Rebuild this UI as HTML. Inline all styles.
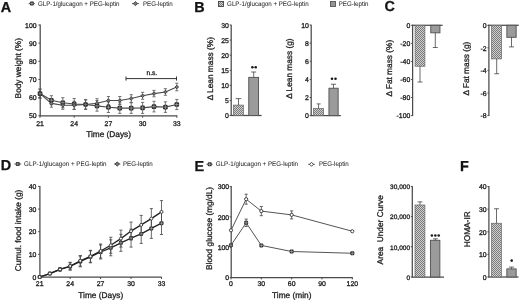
<!DOCTYPE html>
<html><head><meta charset="utf-8"><style>
html,body{margin:0;padding:0;background:#fff;}
svg{display:block;will-change:transform;filter:blur(0.3px);}
text{text-rendering:geometricPrecision;font-family:"Liberation Sans",sans-serif;stroke:#222;stroke-width:0.3px;}
</style></head><body>
<svg width="520" height="301" viewBox="0 0 520 301">
<defs>
<pattern id="chk" width="2" height="2" patternUnits="userSpaceOnUse">
<rect width="2" height="2" fill="#d0d0d0"/>
<rect x="0" y="0" width="1" height="1" fill="#7a7a7a"/>
<rect x="1" y="1" width="1" height="1" fill="#7a7a7a"/>
</pattern>
</defs>
<rect width="520" height="301" fill="#fff"/>
<text x="0.8" y="11.6" font-size="14.4" text-anchor="start" font-weight="bold" fill="#111" >A</text>
<line x1="28.7" y1="3.6" x2="34.8" y2="3.6" stroke="#444" stroke-width="0.9"/>
<rect x="29.90" y="1.60" width="4.00" height="4.00" rx="1.10" fill="#2a2a2a"/>
<line x1="30.20" y1="3.60" x2="33.60" y2="3.60" stroke="#bbb" stroke-width="0.6"/>
<line x1="31.90" y1="1.90" x2="31.90" y2="5.30" stroke="#bbb" stroke-width="0.6"/>
<text x="38" y="5.9" font-size="6.7" textLength="81.5" lengthAdjust="spacingAndGlyphs" fill="#2a2a2a" style="stroke-width:0.05px">GLP-1/glucagon + PEG-leptin</text>
<line x1="132" y1="3.6" x2="138.9" y2="3.6" stroke="#444" stroke-width="0.9"/>
<path d="M133.30,3.60 L135.40,1.50 L137.50,3.60 L135.40,5.70 Z" fill="#777" stroke="#333" stroke-width="0.8"/>
<text x="143" y="5.9" font-size="6.7" textLength="29.8" lengthAdjust="spacingAndGlyphs" fill="#2a2a2a" style="stroke-width:0.05px">PEG-leptin</text>
<line x1="40.2" y1="24.5" x2="40.2" y2="116.2" stroke="#4a4a4a" stroke-width="1.25"/>
<line x1="38.400000000000006" y1="25.0" x2="40.2" y2="25.0" stroke="#4a4a4a" stroke-width="1"/>
<text x="36.6" y="27.7" font-size="6.9" text-anchor="end" font-weight="normal" fill="#222" >100</text>
<line x1="38.400000000000006" y1="43.14" x2="40.2" y2="43.14" stroke="#4a4a4a" stroke-width="1"/>
<text x="36.6" y="45.84" font-size="6.9" text-anchor="end" font-weight="normal" fill="#222" >90</text>
<line x1="38.400000000000006" y1="61.28" x2="40.2" y2="61.28" stroke="#4a4a4a" stroke-width="1"/>
<text x="36.6" y="63.980000000000004" font-size="6.9" text-anchor="end" font-weight="normal" fill="#222" >80</text>
<line x1="38.400000000000006" y1="79.42" x2="40.2" y2="79.42" stroke="#4a4a4a" stroke-width="1"/>
<text x="36.6" y="82.12" font-size="6.9" text-anchor="end" font-weight="normal" fill="#222" >70</text>
<line x1="38.400000000000006" y1="97.56" x2="40.2" y2="97.56" stroke="#4a4a4a" stroke-width="1"/>
<text x="36.6" y="100.26" font-size="6.9" text-anchor="end" font-weight="normal" fill="#222" >60</text>
<line x1="38.400000000000006" y1="115.7" x2="40.2" y2="115.7" stroke="#4a4a4a" stroke-width="1"/>
<text x="36.6" y="118.4" font-size="6.9" text-anchor="end" font-weight="normal" fill="#222" >50</text>
<line x1="39.7" y1="115.9" x2="177.3" y2="115.9" stroke="#4a4a4a" stroke-width="1.3"/>
<line x1="40.0" y1="115.7" x2="40.0" y2="117.7" stroke="#4a4a4a" stroke-width="1"/>
<text x="40.0" y="126.1" font-size="6.9" text-anchor="middle" font-weight="normal" fill="#222" >21</text>
<line x1="74.2" y1="115.7" x2="74.2" y2="117.7" stroke="#4a4a4a" stroke-width="1"/>
<text x="74.2" y="126.1" font-size="6.9" text-anchor="middle" font-weight="normal" fill="#222" >24</text>
<line x1="108.4" y1="115.7" x2="108.4" y2="117.7" stroke="#4a4a4a" stroke-width="1"/>
<text x="108.4" y="126.1" font-size="6.9" text-anchor="middle" font-weight="normal" fill="#222" >27</text>
<line x1="142.60000000000002" y1="115.7" x2="142.60000000000002" y2="117.7" stroke="#4a4a4a" stroke-width="1"/>
<text x="142.60000000000002" y="126.1" font-size="6.9" text-anchor="middle" font-weight="normal" fill="#222" >30</text>
<line x1="176.8" y1="115.7" x2="176.8" y2="117.7" stroke="#4a4a4a" stroke-width="1"/>
<text x="176.8" y="126.1" font-size="6.9" text-anchor="middle" font-weight="normal" fill="#222" >33</text>
<text x="108.6" y="136.8" font-size="8.3" text-anchor="middle" font-weight="normal" fill="#222" >Time (Days)</text>
<text transform="translate(20.7,68.2) rotate(-90)" x="0" y="0" font-size="8.3" text-anchor="middle" fill="#222" xml:space="preserve">Body weight (%)</text>
<line x1="126" y1="78.6" x2="176.5" y2="78.6" stroke="#333" stroke-width="1"/>
<line x1="126" y1="76.5" x2="126" y2="80.6" stroke="#333" stroke-width="1"/>
<line x1="176.5" y1="76.5" x2="176.5" y2="80.6" stroke="#333" stroke-width="1"/>
<text x="151.9" y="75.4" font-size="6.6" text-anchor="middle" font-weight="normal" fill="#222" >n.s.</text>
<line x1="40.0" y1="89.1" x2="40.0" y2="98.1" stroke="#555" stroke-width="0.8"/>
<line x1="38.4" y1="89.1" x2="41.6" y2="89.1" stroke="#555" stroke-width="0.8"/>
<line x1="38.4" y1="98.1" x2="41.6" y2="98.1" stroke="#555" stroke-width="0.8"/>
<line x1="51.4" y1="99.60000000000001" x2="51.4" y2="107.2" stroke="#555" stroke-width="0.8"/>
<line x1="49.8" y1="99.60000000000001" x2="53.0" y2="99.60000000000001" stroke="#555" stroke-width="0.8"/>
<line x1="49.8" y1="107.2" x2="53.0" y2="107.2" stroke="#555" stroke-width="0.8"/>
<line x1="62.8" y1="101.3" x2="62.8" y2="109.3" stroke="#555" stroke-width="0.8"/>
<line x1="61.199999999999996" y1="101.3" x2="64.39999999999999" y2="101.3" stroke="#555" stroke-width="0.8"/>
<line x1="61.199999999999996" y1="109.3" x2="64.39999999999999" y2="109.3" stroke="#555" stroke-width="0.8"/>
<line x1="74.2" y1="101.3" x2="74.2" y2="109.3" stroke="#555" stroke-width="0.8"/>
<line x1="72.60000000000001" y1="101.3" x2="75.8" y2="101.3" stroke="#555" stroke-width="0.8"/>
<line x1="72.60000000000001" y1="109.3" x2="75.8" y2="109.3" stroke="#555" stroke-width="0.8"/>
<line x1="85.6" y1="100.0" x2="85.6" y2="109.0" stroke="#555" stroke-width="0.8"/>
<line x1="84.0" y1="100.0" x2="87.19999999999999" y2="100.0" stroke="#555" stroke-width="0.8"/>
<line x1="84.0" y1="109.0" x2="87.19999999999999" y2="109.0" stroke="#555" stroke-width="0.8"/>
<line x1="97.0" y1="98.7" x2="97.0" y2="107.7" stroke="#555" stroke-width="0.8"/>
<line x1="95.4" y1="98.7" x2="98.6" y2="98.7" stroke="#555" stroke-width="0.8"/>
<line x1="95.4" y1="107.7" x2="98.6" y2="107.7" stroke="#555" stroke-width="0.8"/>
<line x1="108.4" y1="96.5" x2="108.4" y2="104.5" stroke="#555" stroke-width="0.8"/>
<line x1="106.80000000000001" y1="96.5" x2="110.0" y2="96.5" stroke="#555" stroke-width="0.8"/>
<line x1="106.80000000000001" y1="104.5" x2="110.0" y2="104.5" stroke="#555" stroke-width="0.8"/>
<line x1="119.8" y1="96.5" x2="119.8" y2="104.5" stroke="#555" stroke-width="0.8"/>
<line x1="118.2" y1="96.5" x2="121.39999999999999" y2="96.5" stroke="#555" stroke-width="0.8"/>
<line x1="118.2" y1="104.5" x2="121.39999999999999" y2="104.5" stroke="#555" stroke-width="0.8"/>
<line x1="131.2" y1="94.7" x2="131.2" y2="102.3" stroke="#555" stroke-width="0.8"/>
<line x1="129.6" y1="94.7" x2="132.79999999999998" y2="94.7" stroke="#555" stroke-width="0.8"/>
<line x1="129.6" y1="102.3" x2="132.79999999999998" y2="102.3" stroke="#555" stroke-width="0.8"/>
<line x1="142.60000000000002" y1="92.3" x2="142.60000000000002" y2="99.3" stroke="#555" stroke-width="0.8"/>
<line x1="141.00000000000003" y1="92.3" x2="144.20000000000002" y2="92.3" stroke="#555" stroke-width="0.8"/>
<line x1="141.00000000000003" y1="99.3" x2="144.20000000000002" y2="99.3" stroke="#555" stroke-width="0.8"/>
<line x1="154.0" y1="90.39999999999999" x2="154.0" y2="96.8" stroke="#555" stroke-width="0.8"/>
<line x1="152.4" y1="90.39999999999999" x2="155.6" y2="90.39999999999999" stroke="#555" stroke-width="0.8"/>
<line x1="152.4" y1="96.8" x2="155.6" y2="96.8" stroke="#555" stroke-width="0.8"/>
<line x1="165.4" y1="88.7" x2="165.4" y2="95.3" stroke="#555" stroke-width="0.8"/>
<line x1="163.8" y1="88.7" x2="167.0" y2="88.7" stroke="#555" stroke-width="0.8"/>
<line x1="163.8" y1="95.3" x2="167.0" y2="95.3" stroke="#555" stroke-width="0.8"/>
<line x1="176.8" y1="83.2" x2="176.8" y2="90.8" stroke="#555" stroke-width="0.8"/>
<line x1="175.20000000000002" y1="83.2" x2="178.4" y2="83.2" stroke="#555" stroke-width="0.8"/>
<line x1="175.20000000000002" y1="90.8" x2="178.4" y2="90.8" stroke="#555" stroke-width="0.8"/>
<line x1="40.0" y1="89.1" x2="40.0" y2="98.1" stroke="#555" stroke-width="0.8"/>
<line x1="38.4" y1="89.1" x2="41.6" y2="89.1" stroke="#555" stroke-width="0.8"/>
<line x1="38.4" y1="98.1" x2="41.6" y2="98.1" stroke="#555" stroke-width="0.8"/>
<line x1="51.4" y1="95.7" x2="51.4" y2="104.7" stroke="#555" stroke-width="0.8"/>
<line x1="49.8" y1="95.7" x2="53.0" y2="95.7" stroke="#555" stroke-width="0.8"/>
<line x1="49.8" y1="104.7" x2="53.0" y2="104.7" stroke="#555" stroke-width="0.8"/>
<line x1="62.8" y1="97.7" x2="62.8" y2="107.7" stroke="#555" stroke-width="0.8"/>
<line x1="61.199999999999996" y1="97.7" x2="64.39999999999999" y2="97.7" stroke="#555" stroke-width="0.8"/>
<line x1="61.199999999999996" y1="107.7" x2="64.39999999999999" y2="107.7" stroke="#555" stroke-width="0.8"/>
<line x1="74.2" y1="98.5" x2="74.2" y2="109.5" stroke="#555" stroke-width="0.8"/>
<line x1="72.60000000000001" y1="98.5" x2="75.8" y2="98.5" stroke="#555" stroke-width="0.8"/>
<line x1="72.60000000000001" y1="109.5" x2="75.8" y2="109.5" stroke="#555" stroke-width="0.8"/>
<line x1="85.6" y1="99.5" x2="85.6" y2="109.5" stroke="#555" stroke-width="0.8"/>
<line x1="84.0" y1="99.5" x2="87.19999999999999" y2="99.5" stroke="#555" stroke-width="0.8"/>
<line x1="84.0" y1="109.5" x2="87.19999999999999" y2="109.5" stroke="#555" stroke-width="0.8"/>
<line x1="97.0" y1="100.60000000000001" x2="97.0" y2="111.2" stroke="#555" stroke-width="0.8"/>
<line x1="95.4" y1="100.60000000000001" x2="98.6" y2="100.60000000000001" stroke="#555" stroke-width="0.8"/>
<line x1="95.4" y1="111.2" x2="98.6" y2="111.2" stroke="#555" stroke-width="0.8"/>
<line x1="108.4" y1="101.9" x2="108.4" y2="112.5" stroke="#555" stroke-width="0.8"/>
<line x1="106.80000000000001" y1="101.9" x2="110.0" y2="101.9" stroke="#555" stroke-width="0.8"/>
<line x1="106.80000000000001" y1="112.5" x2="110.0" y2="112.5" stroke="#555" stroke-width="0.8"/>
<line x1="119.8" y1="102.8" x2="119.8" y2="113.39999999999999" stroke="#555" stroke-width="0.8"/>
<line x1="118.2" y1="102.8" x2="121.39999999999999" y2="102.8" stroke="#555" stroke-width="0.8"/>
<line x1="118.2" y1="113.39999999999999" x2="121.39999999999999" y2="113.39999999999999" stroke="#555" stroke-width="0.8"/>
<line x1="131.2" y1="102.8" x2="131.2" y2="113.39999999999999" stroke="#555" stroke-width="0.8"/>
<line x1="129.6" y1="102.8" x2="132.79999999999998" y2="102.8" stroke="#555" stroke-width="0.8"/>
<line x1="129.6" y1="113.39999999999999" x2="132.79999999999998" y2="113.39999999999999" stroke="#555" stroke-width="0.8"/>
<line x1="142.60000000000002" y1="102.4" x2="142.60000000000002" y2="113.4" stroke="#555" stroke-width="0.8"/>
<line x1="141.00000000000003" y1="102.4" x2="144.20000000000002" y2="102.4" stroke="#555" stroke-width="0.8"/>
<line x1="141.00000000000003" y1="113.4" x2="144.20000000000002" y2="113.4" stroke="#555" stroke-width="0.8"/>
<line x1="154.0" y1="101.3" x2="154.0" y2="111.89999999999999" stroke="#555" stroke-width="0.8"/>
<line x1="152.4" y1="101.3" x2="155.6" y2="101.3" stroke="#555" stroke-width="0.8"/>
<line x1="152.4" y1="111.89999999999999" x2="155.6" y2="111.89999999999999" stroke="#555" stroke-width="0.8"/>
<line x1="165.4" y1="101.8" x2="165.4" y2="112.39999999999999" stroke="#555" stroke-width="0.8"/>
<line x1="163.8" y1="101.8" x2="167.0" y2="101.8" stroke="#555" stroke-width="0.8"/>
<line x1="163.8" y1="112.39999999999999" x2="167.0" y2="112.39999999999999" stroke="#555" stroke-width="0.8"/>
<line x1="176.8" y1="99.4" x2="176.8" y2="109.6" stroke="#555" stroke-width="0.8"/>
<line x1="175.20000000000002" y1="99.4" x2="178.4" y2="99.4" stroke="#555" stroke-width="0.8"/>
<line x1="175.20000000000002" y1="109.6" x2="178.4" y2="109.6" stroke="#555" stroke-width="0.8"/>
<polyline points="40.00,93.60 51.40,103.40 62.80,105.30 74.20,105.30 85.60,104.50 97.00,103.20 108.40,100.50 119.80,100.50 131.20,98.50 142.60,95.80 154.00,93.60 165.40,92.00 176.80,87.00" fill="none" stroke="#4a4a4a" stroke-width="1.1"/>
<polyline points="40.00,93.60 51.40,100.20 62.80,102.70 74.20,104.00 85.60,104.50 97.00,105.90 108.40,107.20 119.80,108.10 131.20,108.10 142.60,107.90 154.00,106.60 165.40,107.10 176.80,104.50" fill="none" stroke="#4a4a4a" stroke-width="1.1"/>
<rect x="37.70" y="91.30" width="4.60" height="4.60" rx="1.26" fill="#2a2a2a"/>
<line x1="38.00" y1="93.60" x2="42.00" y2="93.60" stroke="#bbb" stroke-width="0.6"/>
<line x1="40.00" y1="91.60" x2="40.00" y2="95.60" stroke="#bbb" stroke-width="0.6"/>
<rect x="49.10" y="97.90" width="4.60" height="4.60" rx="1.26" fill="#2a2a2a"/>
<line x1="49.40" y1="100.20" x2="53.40" y2="100.20" stroke="#bbb" stroke-width="0.6"/>
<line x1="51.40" y1="98.20" x2="51.40" y2="102.20" stroke="#bbb" stroke-width="0.6"/>
<rect x="60.50" y="100.40" width="4.60" height="4.60" rx="1.26" fill="#2a2a2a"/>
<line x1="60.80" y1="102.70" x2="64.80" y2="102.70" stroke="#bbb" stroke-width="0.6"/>
<line x1="62.80" y1="100.70" x2="62.80" y2="104.70" stroke="#bbb" stroke-width="0.6"/>
<rect x="71.90" y="101.70" width="4.60" height="4.60" rx="1.26" fill="#2a2a2a"/>
<line x1="72.20" y1="104.00" x2="76.20" y2="104.00" stroke="#bbb" stroke-width="0.6"/>
<line x1="74.20" y1="102.00" x2="74.20" y2="106.00" stroke="#bbb" stroke-width="0.6"/>
<rect x="83.30" y="102.20" width="4.60" height="4.60" rx="1.26" fill="#2a2a2a"/>
<line x1="83.60" y1="104.50" x2="87.60" y2="104.50" stroke="#bbb" stroke-width="0.6"/>
<line x1="85.60" y1="102.50" x2="85.60" y2="106.50" stroke="#bbb" stroke-width="0.6"/>
<rect x="94.70" y="103.60" width="4.60" height="4.60" rx="1.26" fill="#2a2a2a"/>
<line x1="95.00" y1="105.90" x2="99.00" y2="105.90" stroke="#bbb" stroke-width="0.6"/>
<line x1="97.00" y1="103.90" x2="97.00" y2="107.90" stroke="#bbb" stroke-width="0.6"/>
<rect x="106.10" y="104.90" width="4.60" height="4.60" rx="1.26" fill="#2a2a2a"/>
<line x1="106.40" y1="107.20" x2="110.40" y2="107.20" stroke="#bbb" stroke-width="0.6"/>
<line x1="108.40" y1="105.20" x2="108.40" y2="109.20" stroke="#bbb" stroke-width="0.6"/>
<rect x="117.50" y="105.80" width="4.60" height="4.60" rx="1.26" fill="#2a2a2a"/>
<line x1="117.80" y1="108.10" x2="121.80" y2="108.10" stroke="#bbb" stroke-width="0.6"/>
<line x1="119.80" y1="106.10" x2="119.80" y2="110.10" stroke="#bbb" stroke-width="0.6"/>
<rect x="128.90" y="105.80" width="4.60" height="4.60" rx="1.26" fill="#2a2a2a"/>
<line x1="129.20" y1="108.10" x2="133.20" y2="108.10" stroke="#bbb" stroke-width="0.6"/>
<line x1="131.20" y1="106.10" x2="131.20" y2="110.10" stroke="#bbb" stroke-width="0.6"/>
<rect x="140.30" y="105.60" width="4.60" height="4.60" rx="1.26" fill="#2a2a2a"/>
<line x1="140.60" y1="107.90" x2="144.60" y2="107.90" stroke="#bbb" stroke-width="0.6"/>
<line x1="142.60" y1="105.90" x2="142.60" y2="109.90" stroke="#bbb" stroke-width="0.6"/>
<rect x="151.70" y="104.30" width="4.60" height="4.60" rx="1.26" fill="#2a2a2a"/>
<line x1="152.00" y1="106.60" x2="156.00" y2="106.60" stroke="#bbb" stroke-width="0.6"/>
<line x1="154.00" y1="104.60" x2="154.00" y2="108.60" stroke="#bbb" stroke-width="0.6"/>
<rect x="163.10" y="104.80" width="4.60" height="4.60" rx="1.26" fill="#2a2a2a"/>
<line x1="163.40" y1="107.10" x2="167.40" y2="107.10" stroke="#bbb" stroke-width="0.6"/>
<line x1="165.40" y1="105.10" x2="165.40" y2="109.10" stroke="#bbb" stroke-width="0.6"/>
<rect x="174.50" y="102.20" width="4.60" height="4.60" rx="1.26" fill="#2a2a2a"/>
<line x1="174.80" y1="104.50" x2="178.80" y2="104.50" stroke="#bbb" stroke-width="0.6"/>
<line x1="176.80" y1="102.50" x2="176.80" y2="106.50" stroke="#bbb" stroke-width="0.6"/>
<path d="M38.20,93.60 L40.00,91.80 L41.80,93.60 L40.00,95.40 Z" fill="#777" stroke="#333" stroke-width="0.8"/>
<path d="M49.60,103.40 L51.40,101.60 L53.20,103.40 L51.40,105.20 Z" fill="#777" stroke="#333" stroke-width="0.8"/>
<path d="M61.00,105.30 L62.80,103.50 L64.60,105.30 L62.80,107.10 Z" fill="#777" stroke="#333" stroke-width="0.8"/>
<path d="M72.40,105.30 L74.20,103.50 L76.00,105.30 L74.20,107.10 Z" fill="#777" stroke="#333" stroke-width="0.8"/>
<path d="M83.80,104.50 L85.60,102.70 L87.40,104.50 L85.60,106.30 Z" fill="#777" stroke="#333" stroke-width="0.8"/>
<path d="M95.20,103.20 L97.00,101.40 L98.80,103.20 L97.00,105.00 Z" fill="#777" stroke="#333" stroke-width="0.8"/>
<path d="M106.60,100.50 L108.40,98.70 L110.20,100.50 L108.40,102.30 Z" fill="#777" stroke="#333" stroke-width="0.8"/>
<path d="M118.00,100.50 L119.80,98.70 L121.60,100.50 L119.80,102.30 Z" fill="#777" stroke="#333" stroke-width="0.8"/>
<path d="M129.40,98.50 L131.20,96.70 L133.00,98.50 L131.20,100.30 Z" fill="#777" stroke="#333" stroke-width="0.8"/>
<path d="M140.80,95.80 L142.60,94.00 L144.40,95.80 L142.60,97.60 Z" fill="#777" stroke="#333" stroke-width="0.8"/>
<path d="M152.20,93.60 L154.00,91.80 L155.80,93.60 L154.00,95.40 Z" fill="#777" stroke="#333" stroke-width="0.8"/>
<path d="M163.60,92.00 L165.40,90.20 L167.20,92.00 L165.40,93.80 Z" fill="#777" stroke="#333" stroke-width="0.8"/>
<path d="M175.00,87.00 L176.80,85.20 L178.60,87.00 L176.80,88.80 Z" fill="#777" stroke="#333" stroke-width="0.8"/>
<text x="194.3" y="11.8" font-size="14.4" text-anchor="start" font-weight="bold" fill="#111" >B</text>
<rect x="218.5" y="1.5" width="5" height="5" fill="url(#chk)" stroke="#444" stroke-width="0.9"/>
<text x="227.1" y="5.9" font-size="6.7" textLength="81.5" lengthAdjust="spacingAndGlyphs" fill="#2a2a2a" style="stroke-width:0.05px">GLP-1/glucagon + PEG-leptin</text>
<rect x="330.5" y="1.5" width="5" height="5" fill="#969696" stroke="#555" stroke-width="0.9"/>
<text x="338.7" y="5.9" font-size="6.7" textLength="29.8" lengthAdjust="spacingAndGlyphs" fill="#2a2a2a" style="stroke-width:0.05px">PEG-leptin</text>
<line x1="231.2" y1="24.7" x2="231.2" y2="116.0" stroke="#4a4a4a" stroke-width="1.25"/>
<line x1="229.7" y1="25.0" x2="231.2" y2="25.0" stroke="#4a4a4a" stroke-width="1"/>
<text x="228.89999999999998" y="27.7" font-size="6.9" text-anchor="end" font-weight="normal" fill="#222" >30</text>
<line x1="229.7" y1="40.08333333333333" x2="231.2" y2="40.08333333333333" stroke="#4a4a4a" stroke-width="1"/>
<text x="228.89999999999998" y="42.78333333333333" font-size="6.9" text-anchor="end" font-weight="normal" fill="#222" >25</text>
<line x1="229.7" y1="55.16666666666667" x2="231.2" y2="55.16666666666667" stroke="#4a4a4a" stroke-width="1"/>
<text x="228.89999999999998" y="57.866666666666674" font-size="6.9" text-anchor="end" font-weight="normal" fill="#222" >20</text>
<line x1="229.7" y1="70.25" x2="231.2" y2="70.25" stroke="#4a4a4a" stroke-width="1"/>
<text x="228.89999999999998" y="72.95" font-size="6.9" text-anchor="end" font-weight="normal" fill="#222" >15</text>
<line x1="229.7" y1="85.33333333333334" x2="231.2" y2="85.33333333333334" stroke="#4a4a4a" stroke-width="1"/>
<text x="228.89999999999998" y="88.03333333333335" font-size="6.9" text-anchor="end" font-weight="normal" fill="#222" >10</text>
<line x1="229.7" y1="100.41666666666667" x2="231.2" y2="100.41666666666667" stroke="#4a4a4a" stroke-width="1"/>
<text x="228.89999999999998" y="103.11666666666667" font-size="6.9" text-anchor="end" font-weight="normal" fill="#222" >5</text>
<line x1="229.7" y1="115.5" x2="231.2" y2="115.5" stroke="#4a4a4a" stroke-width="1"/>
<text x="228.89999999999998" y="118.2" font-size="6.9" text-anchor="end" font-weight="normal" fill="#222" >0</text>
<line x1="230.7" y1="115.5" x2="261.6" y2="115.5" stroke="#4a4a4a" stroke-width="1.25"/>
<rect x="233.5" y="105.1" width="9.900000000000006" height="10.400000000000006" fill="url(#chk)" stroke="#666" stroke-width="0.7"/>
<line x1="238.5" y1="98.6" x2="238.5" y2="105.1" stroke="#444" stroke-width="0.8"/>
<line x1="235.7" y1="98.6" x2="241.3" y2="98.6" stroke="#444" stroke-width="0.8"/>
<rect x="248.75" y="77.4" width="9.800000000000011" height="38.099999999999994" fill="#9b9b9b" stroke="#555" stroke-width="0.95"/>
<line x1="253.7" y1="72.0" x2="253.7" y2="77.4" stroke="#444" stroke-width="0.8"/>
<line x1="251.2" y1="72.0" x2="256.2" y2="72.0" stroke="#444" stroke-width="0.8"/>
<circle cx="252.4" cy="67.3" r="1.3" fill="#1a1a1a"/>
<circle cx="255.7" cy="67.3" r="1.3" fill="#1a1a1a"/>
<text transform="translate(212.9,68.7) rotate(-90)" x="0" y="0" font-size="8.3" text-anchor="middle" fill="#222" xml:space="preserve">Δ Lean mass (%)</text>
<line x1="311.2" y1="24.7" x2="311.2" y2="116.1" stroke="#4a4a4a" stroke-width="1.25"/>
<line x1="309.7" y1="25.0" x2="311.2" y2="25.0" stroke="#4a4a4a" stroke-width="1"/>
<text x="308.9" y="27.7" font-size="6.9" text-anchor="end" font-weight="normal" fill="#222" >10</text>
<line x1="309.7" y1="43.120000000000005" x2="311.2" y2="43.120000000000005" stroke="#4a4a4a" stroke-width="1"/>
<text x="308.9" y="45.82000000000001" font-size="6.9" text-anchor="end" font-weight="normal" fill="#222" >8</text>
<line x1="309.7" y1="61.24" x2="311.2" y2="61.24" stroke="#4a4a4a" stroke-width="1"/>
<text x="308.9" y="63.940000000000005" font-size="6.9" text-anchor="end" font-weight="normal" fill="#222" >6</text>
<line x1="309.7" y1="79.36" x2="311.2" y2="79.36" stroke="#4a4a4a" stroke-width="1"/>
<text x="308.9" y="82.06" font-size="6.9" text-anchor="end" font-weight="normal" fill="#222" >4</text>
<line x1="309.7" y1="97.47999999999999" x2="311.2" y2="97.47999999999999" stroke="#4a4a4a" stroke-width="1"/>
<text x="308.9" y="100.17999999999999" font-size="6.9" text-anchor="end" font-weight="normal" fill="#222" >2</text>
<line x1="309.7" y1="115.6" x2="311.2" y2="115.6" stroke="#4a4a4a" stroke-width="1"/>
<text x="308.9" y="118.3" font-size="6.9" text-anchor="end" font-weight="normal" fill="#222" >0</text>
<line x1="310.7" y1="115.6" x2="340.8" y2="115.6" stroke="#4a4a4a" stroke-width="1.25"/>
<rect x="313.6" y="108.5" width="10.0" height="7.099999999999994" fill="url(#chk)" stroke="#666" stroke-width="0.7"/>
<line x1="318.6" y1="103.9" x2="318.6" y2="108.5" stroke="#444" stroke-width="0.8"/>
<line x1="316.6" y1="103.9" x2="320.6" y2="103.9" stroke="#444" stroke-width="0.8"/>
<rect x="328.95" y="88.25" width="9.199999999999989" height="27.349999999999994" fill="#9b9b9b" stroke="#555" stroke-width="0.95"/>
<line x1="333.5" y1="84.25" x2="333.5" y2="88.25" stroke="#444" stroke-width="0.8"/>
<line x1="331.0" y1="84.25" x2="336.0" y2="84.25" stroke="#444" stroke-width="0.8"/>
<circle cx="332.0" cy="78.8" r="1.3" fill="#1a1a1a"/>
<circle cx="335.5" cy="78.8" r="1.3" fill="#1a1a1a"/>
<text transform="translate(292.4,68.65) rotate(-90)" x="0" y="0" font-size="8.3" text-anchor="middle" fill="#222" xml:space="preserve">Δ Lean mass (g)</text>
<text x="384.6" y="11.4" font-size="14.4" text-anchor="start" font-weight="bold" fill="#111" >C</text>
<line x1="412.6" y1="24.8" x2="412.6" y2="116.1" stroke="#4a4a4a" stroke-width="1.25"/>
<line x1="411.1" y1="25.3" x2="412.6" y2="25.3" stroke="#4a4a4a" stroke-width="1"/>
<text x="410.3" y="28.0" font-size="6.9" text-anchor="end" font-weight="normal" fill="#222" >0</text>
<line x1="411.1" y1="43.36" x2="412.6" y2="43.36" stroke="#4a4a4a" stroke-width="1"/>
<text x="410.3" y="46.06" font-size="6.9" text-anchor="end" font-weight="normal" fill="#222" >-20</text>
<line x1="411.1" y1="61.42" x2="412.6" y2="61.42" stroke="#4a4a4a" stroke-width="1"/>
<text x="410.3" y="64.12" font-size="6.9" text-anchor="end" font-weight="normal" fill="#222" >-40</text>
<line x1="411.1" y1="79.48" x2="412.6" y2="79.48" stroke="#4a4a4a" stroke-width="1"/>
<text x="410.3" y="82.18" font-size="6.9" text-anchor="end" font-weight="normal" fill="#222" >-60</text>
<line x1="411.1" y1="97.54" x2="412.6" y2="97.54" stroke="#4a4a4a" stroke-width="1"/>
<text x="410.3" y="100.24000000000001" font-size="6.9" text-anchor="end" font-weight="normal" fill="#222" >-80</text>
<line x1="411.1" y1="115.6" x2="412.6" y2="115.6" stroke="#4a4a4a" stroke-width="1"/>
<text x="410.3" y="118.3" font-size="6.9" text-anchor="end" font-weight="normal" fill="#222" >-100</text>
<line x1="412.1" y1="25.3" x2="442.6" y2="25.3" stroke="#4a4a4a" stroke-width="1.25"/>
<rect x="415.1" y="25.3" width="9.799999999999955" height="40.95" fill="url(#chk)" stroke="#666" stroke-width="0.7"/>
<line x1="420" y1="66.25" x2="420" y2="82.0" stroke="#444" stroke-width="0.8"/>
<line x1="417.5" y1="82.0" x2="422.5" y2="82.0" stroke="#444" stroke-width="0.8"/>
<rect x="430.75" y="25.3" width="9.199999999999989" height="7.4999999999999964" fill="#9b9b9b" stroke="#555" stroke-width="0.95"/>
<line x1="435.3" y1="32.8" x2="435.3" y2="47.5" stroke="#444" stroke-width="0.8"/>
<line x1="432.8" y1="47.5" x2="437.8" y2="47.5" stroke="#444" stroke-width="0.8"/>
<text transform="translate(392.4,68.2) rotate(-90)" x="0" y="0" font-size="8.3" text-anchor="middle" fill="#222" xml:space="preserve">Δ Fat mass (%)</text>
<line x1="488.9" y1="24.8" x2="488.9" y2="116.1" stroke="#4a4a4a" stroke-width="1.25"/>
<line x1="487.4" y1="25.3" x2="488.9" y2="25.3" stroke="#4a4a4a" stroke-width="1"/>
<text x="486.59999999999997" y="28.0" font-size="6.9" text-anchor="end" font-weight="normal" fill="#222" >0</text>
<line x1="487.4" y1="47.875" x2="488.9" y2="47.875" stroke="#4a4a4a" stroke-width="1"/>
<text x="486.59999999999997" y="50.575" font-size="6.9" text-anchor="end" font-weight="normal" fill="#222" >-2</text>
<line x1="487.4" y1="70.45" x2="488.9" y2="70.45" stroke="#4a4a4a" stroke-width="1"/>
<text x="486.59999999999997" y="73.15" font-size="6.9" text-anchor="end" font-weight="normal" fill="#222" >-4</text>
<line x1="487.4" y1="93.02499999999999" x2="488.9" y2="93.02499999999999" stroke="#4a4a4a" stroke-width="1"/>
<text x="486.59999999999997" y="95.725" font-size="6.9" text-anchor="end" font-weight="normal" fill="#222" >-6</text>
<line x1="487.4" y1="115.6" x2="488.9" y2="115.6" stroke="#4a4a4a" stroke-width="1"/>
<text x="486.59999999999997" y="118.3" font-size="6.9" text-anchor="end" font-weight="normal" fill="#222" >-8</text>
<line x1="488.4" y1="25.3" x2="518.8" y2="25.3" stroke="#4a4a4a" stroke-width="1.25"/>
<rect x="491.6" y="25.3" width="9.899999999999977" height="33.599999999999994" fill="url(#chk)" stroke="#666" stroke-width="0.7"/>
<line x1="496.7" y1="58.9" x2="496.7" y2="73.75" stroke="#444" stroke-width="0.8"/>
<line x1="494.2" y1="73.75" x2="499.2" y2="73.75" stroke="#444" stroke-width="0.8"/>
<rect x="506.85" y="25.3" width="9.299999999999955" height="11.999999999999996" fill="#9b9b9b" stroke="#555" stroke-width="0.95"/>
<line x1="511.5" y1="37.3" x2="511.5" y2="46.9" stroke="#444" stroke-width="0.8"/>
<line x1="509.0" y1="46.9" x2="514.0" y2="46.9" stroke="#444" stroke-width="0.8"/>
<text transform="translate(469.4,68.6) rotate(-90)" x="0" y="0" font-size="8.3" text-anchor="middle" fill="#222" xml:space="preserve">Δ Fat mass (g)</text>
<text x="0.8" y="170.0" font-size="14.4" text-anchor="start" font-weight="bold" fill="#111" >D</text>
<line x1="14.4" y1="164.0" x2="21.2" y2="164.0" stroke="#444" stroke-width="0.9"/>
<rect x="15.80" y="162.00" width="4.00" height="4.00" rx="1.10" fill="#2a2a2a"/>
<line x1="16.10" y1="164.00" x2="19.50" y2="164.00" stroke="#bbb" stroke-width="0.6"/>
<line x1="17.80" y1="162.30" x2="17.80" y2="165.70" stroke="#bbb" stroke-width="0.6"/>
<text x="24.1" y="166.1" font-size="6.7" textLength="82.5" lengthAdjust="spacingAndGlyphs" fill="#2a2a2a" style="stroke-width:0.05px">GLP-1/glucagon + PEG-leptin</text>
<line x1="114" y1="164.0" x2="120.3" y2="164.0" stroke="#444" stroke-width="0.9"/>
<path d="M115.00,164.00 L117.20,161.80 L119.40,164.00 L117.20,166.20 Z" fill="#777" stroke="#333" stroke-width="0.8"/>
<text x="123" y="166.1" font-size="6.7" textLength="29.8" lengthAdjust="spacingAndGlyphs" fill="#2a2a2a" style="stroke-width:0.05px">PEG-leptin</text>
<line x1="39.9" y1="185.9" x2="39.9" y2="277.5" stroke="#4a4a4a" stroke-width="1.25"/>
<line x1="38.1" y1="186.4" x2="39.9" y2="186.4" stroke="#4a4a4a" stroke-width="1"/>
<text x="36.3" y="189.1" font-size="6.9" text-anchor="end" font-weight="normal" fill="#222" >40</text>
<line x1="38.1" y1="209.05" x2="39.9" y2="209.05" stroke="#4a4a4a" stroke-width="1"/>
<text x="36.3" y="211.75" font-size="6.9" text-anchor="end" font-weight="normal" fill="#222" >30</text>
<line x1="38.1" y1="231.7" x2="39.9" y2="231.7" stroke="#4a4a4a" stroke-width="1"/>
<text x="36.3" y="234.39999999999998" font-size="6.9" text-anchor="end" font-weight="normal" fill="#222" >20</text>
<line x1="38.1" y1="254.35" x2="39.9" y2="254.35" stroke="#4a4a4a" stroke-width="1"/>
<text x="36.3" y="257.05" font-size="6.9" text-anchor="end" font-weight="normal" fill="#222" >10</text>
<line x1="38.1" y1="277.0" x2="39.9" y2="277.0" stroke="#4a4a4a" stroke-width="1"/>
<text x="36.3" y="279.7" font-size="6.9" text-anchor="end" font-weight="normal" fill="#222" >0</text>
<line x1="39.4" y1="277" x2="161.7" y2="277" stroke="#4a4a4a" stroke-width="1.25"/>
<line x1="39.7" y1="277" x2="39.7" y2="279" stroke="#4a4a4a" stroke-width="1"/>
<text x="39.7" y="286.2" font-size="6.9" text-anchor="middle" font-weight="normal" fill="#222" >21</text>
<line x1="70.15" y1="277" x2="70.15" y2="279" stroke="#4a4a4a" stroke-width="1"/>
<text x="70.15" y="286.2" font-size="6.9" text-anchor="middle" font-weight="normal" fill="#222" >24</text>
<line x1="100.60000000000001" y1="277" x2="100.60000000000001" y2="279" stroke="#4a4a4a" stroke-width="1"/>
<text x="100.60000000000001" y="286.2" font-size="6.9" text-anchor="middle" font-weight="normal" fill="#222" >27</text>
<line x1="131.05" y1="277" x2="131.05" y2="279" stroke="#4a4a4a" stroke-width="1"/>
<text x="131.05" y="286.2" font-size="6.9" text-anchor="middle" font-weight="normal" fill="#222" >30</text>
<line x1="161.5" y1="277" x2="161.5" y2="279" stroke="#4a4a4a" stroke-width="1"/>
<text x="161.5" y="286.2" font-size="6.9" text-anchor="middle" font-weight="normal" fill="#222" >33</text>
<text x="100.8" y="298.3" font-size="8.3" text-anchor="middle" font-weight="normal" fill="#222" >Time (Days)</text>
<text transform="translate(20.5,230.5) rotate(-90)" x="0" y="0" font-size="8.3" text-anchor="middle" fill="#222" xml:space="preserve">Cumul. food intake (g)</text>
<line x1="60.0" y1="267.9" x2="60.0" y2="270.9" stroke="#444" stroke-width="0.8"/>
<line x1="58.4" y1="267.9" x2="61.6" y2="267.9" stroke="#444" stroke-width="0.8"/>
<line x1="58.4" y1="270.9" x2="61.6" y2="270.9" stroke="#444" stroke-width="0.8"/>
<line x1="70.15" y1="262.3" x2="70.15" y2="269.7" stroke="#444" stroke-width="0.8"/>
<line x1="68.55000000000001" y1="262.3" x2="71.75" y2="262.3" stroke="#444" stroke-width="0.8"/>
<line x1="68.55000000000001" y1="269.7" x2="71.75" y2="269.7" stroke="#444" stroke-width="0.8"/>
<line x1="80.30000000000001" y1="255.5" x2="80.30000000000001" y2="266.1" stroke="#444" stroke-width="0.8"/>
<line x1="78.70000000000002" y1="255.5" x2="81.9" y2="255.5" stroke="#444" stroke-width="0.8"/>
<line x1="78.70000000000002" y1="266.1" x2="81.9" y2="266.1" stroke="#444" stroke-width="0.8"/>
<line x1="90.45" y1="250.3" x2="90.45" y2="262.3" stroke="#444" stroke-width="0.8"/>
<line x1="88.85000000000001" y1="250.3" x2="92.05" y2="250.3" stroke="#444" stroke-width="0.8"/>
<line x1="88.85000000000001" y1="262.3" x2="92.05" y2="262.3" stroke="#444" stroke-width="0.8"/>
<line x1="100.60000000000001" y1="244" x2="100.60000000000001" y2="258" stroke="#444" stroke-width="0.8"/>
<line x1="99.00000000000001" y1="244" x2="102.2" y2="244" stroke="#444" stroke-width="0.8"/>
<line x1="99.00000000000001" y1="258" x2="102.2" y2="258" stroke="#444" stroke-width="0.8"/>
<line x1="110.75" y1="237.3" x2="110.75" y2="253.3" stroke="#444" stroke-width="0.8"/>
<line x1="109.15" y1="237.3" x2="112.35" y2="237.3" stroke="#444" stroke-width="0.8"/>
<line x1="109.15" y1="253.3" x2="112.35" y2="253.3" stroke="#444" stroke-width="0.8"/>
<line x1="120.9" y1="230.1" x2="120.9" y2="247.1" stroke="#444" stroke-width="0.8"/>
<line x1="119.30000000000001" y1="230.1" x2="122.5" y2="230.1" stroke="#444" stroke-width="0.8"/>
<line x1="119.30000000000001" y1="247.1" x2="122.5" y2="247.1" stroke="#444" stroke-width="0.8"/>
<line x1="131.05" y1="222.1" x2="131.05" y2="240.1" stroke="#444" stroke-width="0.8"/>
<line x1="129.45000000000002" y1="222.1" x2="132.65" y2="222.1" stroke="#444" stroke-width="0.8"/>
<line x1="129.45000000000002" y1="240.1" x2="132.65" y2="240.1" stroke="#444" stroke-width="0.8"/>
<line x1="141.2" y1="215.4" x2="141.2" y2="234.4" stroke="#444" stroke-width="0.8"/>
<line x1="139.6" y1="215.4" x2="142.79999999999998" y2="215.4" stroke="#444" stroke-width="0.8"/>
<line x1="139.6" y1="234.4" x2="142.79999999999998" y2="234.4" stroke="#444" stroke-width="0.8"/>
<line x1="151.35000000000002" y1="208.6" x2="151.35000000000002" y2="228.6" stroke="#444" stroke-width="0.8"/>
<line x1="149.75000000000003" y1="208.6" x2="152.95000000000002" y2="208.6" stroke="#444" stroke-width="0.8"/>
<line x1="149.75000000000003" y1="228.6" x2="152.95000000000002" y2="228.6" stroke="#444" stroke-width="0.8"/>
<line x1="161.5" y1="200.6" x2="161.5" y2="223.20000000000002" stroke="#444" stroke-width="0.8"/>
<line x1="159.9" y1="200.6" x2="163.1" y2="200.6" stroke="#444" stroke-width="0.8"/>
<line x1="159.9" y1="223.20000000000002" x2="163.1" y2="223.20000000000002" stroke="#444" stroke-width="0.8"/>
<line x1="60.0" y1="267.9" x2="60.0" y2="270.9" stroke="#444" stroke-width="0.8"/>
<line x1="58.4" y1="267.9" x2="61.6" y2="267.9" stroke="#444" stroke-width="0.8"/>
<line x1="58.4" y1="270.9" x2="61.6" y2="270.9" stroke="#444" stroke-width="0.8"/>
<line x1="70.15" y1="262.8" x2="70.15" y2="270.2" stroke="#444" stroke-width="0.8"/>
<line x1="68.55000000000001" y1="262.8" x2="71.75" y2="262.8" stroke="#444" stroke-width="0.8"/>
<line x1="68.55000000000001" y1="270.2" x2="71.75" y2="270.2" stroke="#444" stroke-width="0.8"/>
<line x1="80.30000000000001" y1="256.2" x2="80.30000000000001" y2="266.8" stroke="#444" stroke-width="0.8"/>
<line x1="78.70000000000002" y1="256.2" x2="81.9" y2="256.2" stroke="#444" stroke-width="0.8"/>
<line x1="78.70000000000002" y1="266.8" x2="81.9" y2="266.8" stroke="#444" stroke-width="0.8"/>
<line x1="90.45" y1="250.8" x2="90.45" y2="262.8" stroke="#444" stroke-width="0.8"/>
<line x1="88.85000000000001" y1="250.8" x2="92.05" y2="250.8" stroke="#444" stroke-width="0.8"/>
<line x1="88.85000000000001" y1="262.8" x2="92.05" y2="262.8" stroke="#444" stroke-width="0.8"/>
<line x1="100.60000000000001" y1="245" x2="100.60000000000001" y2="259" stroke="#444" stroke-width="0.8"/>
<line x1="99.00000000000001" y1="245" x2="102.2" y2="245" stroke="#444" stroke-width="0.8"/>
<line x1="99.00000000000001" y1="259" x2="102.2" y2="259" stroke="#444" stroke-width="0.8"/>
<line x1="110.75" y1="239.8" x2="110.75" y2="255.8" stroke="#444" stroke-width="0.8"/>
<line x1="109.15" y1="239.8" x2="112.35" y2="239.8" stroke="#444" stroke-width="0.8"/>
<line x1="109.15" y1="255.8" x2="112.35" y2="255.8" stroke="#444" stroke-width="0.8"/>
<line x1="120.9" y1="234.3" x2="120.9" y2="251.3" stroke="#444" stroke-width="0.8"/>
<line x1="119.30000000000001" y1="234.3" x2="122.5" y2="234.3" stroke="#444" stroke-width="0.8"/>
<line x1="119.30000000000001" y1="251.3" x2="122.5" y2="251.3" stroke="#444" stroke-width="0.8"/>
<line x1="131.05" y1="229.1" x2="131.05" y2="247.1" stroke="#444" stroke-width="0.8"/>
<line x1="129.45000000000002" y1="229.1" x2="132.65" y2="229.1" stroke="#444" stroke-width="0.8"/>
<line x1="129.45000000000002" y1="247.1" x2="132.65" y2="247.1" stroke="#444" stroke-width="0.8"/>
<line x1="141.2" y1="224.4" x2="141.2" y2="243.4" stroke="#444" stroke-width="0.8"/>
<line x1="139.6" y1="224.4" x2="142.79999999999998" y2="224.4" stroke="#444" stroke-width="0.8"/>
<line x1="139.6" y1="243.4" x2="142.79999999999998" y2="243.4" stroke="#444" stroke-width="0.8"/>
<line x1="151.35000000000002" y1="218.4" x2="151.35000000000002" y2="238.4" stroke="#444" stroke-width="0.8"/>
<line x1="149.75000000000003" y1="218.4" x2="152.95000000000002" y2="218.4" stroke="#444" stroke-width="0.8"/>
<line x1="149.75000000000003" y1="238.4" x2="152.95000000000002" y2="238.4" stroke="#444" stroke-width="0.8"/>
<line x1="161.5" y1="211.89999999999998" x2="161.5" y2="234.5" stroke="#444" stroke-width="0.8"/>
<line x1="159.9" y1="211.89999999999998" x2="163.1" y2="211.89999999999998" stroke="#444" stroke-width="0.8"/>
<line x1="159.9" y1="234.5" x2="163.1" y2="234.5" stroke="#444" stroke-width="0.8"/>
<polyline points="39.70,277.00 49.85,273.60 60.00,269.40 70.15,266.00 80.30,260.80 90.45,256.30 100.60,251.00 110.75,245.30 120.90,238.60 131.05,231.10 141.20,224.90 151.35,218.60 161.50,211.90" fill="none" stroke="#222" stroke-width="1.3"/>
<polyline points="39.70,277.00 49.85,273.60 60.00,269.40 70.15,266.50 80.30,261.50 90.45,256.80 100.60,252.00 110.75,247.80 120.90,242.80 131.05,238.10 141.20,233.90 151.35,228.40 161.50,223.20" fill="none" stroke="#222" stroke-width="1.3"/>
<rect x="37.70" y="275.00" width="4.00" height="4.00" rx="1.10" fill="#2a2a2a"/>
<line x1="38.00" y1="277.00" x2="41.40" y2="277.00" stroke="#bbb" stroke-width="0.6"/>
<line x1="39.70" y1="275.30" x2="39.70" y2="278.70" stroke="#bbb" stroke-width="0.6"/>
<rect x="47.85" y="271.60" width="4.00" height="4.00" rx="1.10" fill="#2a2a2a"/>
<line x1="48.15" y1="273.60" x2="51.55" y2="273.60" stroke="#bbb" stroke-width="0.6"/>
<line x1="49.85" y1="271.90" x2="49.85" y2="275.30" stroke="#bbb" stroke-width="0.6"/>
<rect x="58.00" y="267.40" width="4.00" height="4.00" rx="1.10" fill="#2a2a2a"/>
<line x1="58.30" y1="269.40" x2="61.70" y2="269.40" stroke="#bbb" stroke-width="0.6"/>
<line x1="60.00" y1="267.70" x2="60.00" y2="271.10" stroke="#bbb" stroke-width="0.6"/>
<rect x="68.15" y="264.50" width="4.00" height="4.00" rx="1.10" fill="#2a2a2a"/>
<line x1="68.45" y1="266.50" x2="71.85" y2="266.50" stroke="#bbb" stroke-width="0.6"/>
<line x1="70.15" y1="264.80" x2="70.15" y2="268.20" stroke="#bbb" stroke-width="0.6"/>
<rect x="78.30" y="259.50" width="4.00" height="4.00" rx="1.10" fill="#2a2a2a"/>
<line x1="78.60" y1="261.50" x2="82.00" y2="261.50" stroke="#bbb" stroke-width="0.6"/>
<line x1="80.30" y1="259.80" x2="80.30" y2="263.20" stroke="#bbb" stroke-width="0.6"/>
<rect x="88.45" y="254.80" width="4.00" height="4.00" rx="1.10" fill="#2a2a2a"/>
<line x1="88.75" y1="256.80" x2="92.15" y2="256.80" stroke="#bbb" stroke-width="0.6"/>
<line x1="90.45" y1="255.10" x2="90.45" y2="258.50" stroke="#bbb" stroke-width="0.6"/>
<rect x="98.60" y="250.00" width="4.00" height="4.00" rx="1.10" fill="#2a2a2a"/>
<line x1="98.90" y1="252.00" x2="102.30" y2="252.00" stroke="#bbb" stroke-width="0.6"/>
<line x1="100.60" y1="250.30" x2="100.60" y2="253.70" stroke="#bbb" stroke-width="0.6"/>
<rect x="108.75" y="245.80" width="4.00" height="4.00" rx="1.10" fill="#2a2a2a"/>
<line x1="109.05" y1="247.80" x2="112.45" y2="247.80" stroke="#bbb" stroke-width="0.6"/>
<line x1="110.75" y1="246.10" x2="110.75" y2="249.50" stroke="#bbb" stroke-width="0.6"/>
<rect x="118.90" y="240.80" width="4.00" height="4.00" rx="1.10" fill="#2a2a2a"/>
<line x1="119.20" y1="242.80" x2="122.60" y2="242.80" stroke="#bbb" stroke-width="0.6"/>
<line x1="120.90" y1="241.10" x2="120.90" y2="244.50" stroke="#bbb" stroke-width="0.6"/>
<rect x="129.05" y="236.10" width="4.00" height="4.00" rx="1.10" fill="#2a2a2a"/>
<line x1="129.35" y1="238.10" x2="132.75" y2="238.10" stroke="#bbb" stroke-width="0.6"/>
<line x1="131.05" y1="236.40" x2="131.05" y2="239.80" stroke="#bbb" stroke-width="0.6"/>
<rect x="139.20" y="231.90" width="4.00" height="4.00" rx="1.10" fill="#2a2a2a"/>
<line x1="139.50" y1="233.90" x2="142.90" y2="233.90" stroke="#bbb" stroke-width="0.6"/>
<line x1="141.20" y1="232.20" x2="141.20" y2="235.60" stroke="#bbb" stroke-width="0.6"/>
<rect x="149.35" y="226.40" width="4.00" height="4.00" rx="1.10" fill="#2a2a2a"/>
<line x1="149.65" y1="228.40" x2="153.05" y2="228.40" stroke="#bbb" stroke-width="0.6"/>
<line x1="151.35" y1="226.70" x2="151.35" y2="230.10" stroke="#bbb" stroke-width="0.6"/>
<rect x="159.50" y="221.20" width="4.00" height="4.00" rx="1.10" fill="#2a2a2a"/>
<line x1="159.80" y1="223.20" x2="163.20" y2="223.20" stroke="#bbb" stroke-width="0.6"/>
<line x1="161.50" y1="221.50" x2="161.50" y2="224.90" stroke="#bbb" stroke-width="0.6"/>
<circle cx="39.70" cy="277.00" r="1.5" fill="#fff" stroke="#333" stroke-width="0.9"/>
<circle cx="49.85" cy="273.60" r="1.5" fill="#fff" stroke="#333" stroke-width="0.9"/>
<circle cx="60.00" cy="269.40" r="1.5" fill="#fff" stroke="#333" stroke-width="0.9"/>
<circle cx="70.15" cy="266.00" r="1.5" fill="#fff" stroke="#333" stroke-width="0.9"/>
<circle cx="80.30" cy="260.80" r="1.5" fill="#fff" stroke="#333" stroke-width="0.9"/>
<circle cx="90.45" cy="256.30" r="1.5" fill="#fff" stroke="#333" stroke-width="0.9"/>
<circle cx="100.60" cy="251.00" r="1.5" fill="#fff" stroke="#333" stroke-width="0.9"/>
<circle cx="110.75" cy="245.30" r="1.5" fill="#fff" stroke="#333" stroke-width="0.9"/>
<circle cx="120.90" cy="238.60" r="1.5" fill="#fff" stroke="#333" stroke-width="0.9"/>
<circle cx="131.05" cy="231.10" r="1.5" fill="#fff" stroke="#333" stroke-width="0.9"/>
<circle cx="141.20" cy="224.90" r="1.5" fill="#fff" stroke="#333" stroke-width="0.9"/>
<circle cx="151.35" cy="218.60" r="1.5" fill="#fff" stroke="#333" stroke-width="0.9"/>
<circle cx="161.50" cy="211.90" r="1.5" fill="#fff" stroke="#333" stroke-width="0.9"/>
<text x="194.6" y="170.6" font-size="14.4" text-anchor="start" font-weight="bold" fill="#111" >E</text>
<line x1="206.6" y1="164.3" x2="212.7" y2="164.3" stroke="#444" stroke-width="0.9"/>
<rect x="207.70" y="162.30" width="4.00" height="4.00" rx="1.10" fill="#2a2a2a"/>
<line x1="208.00" y1="164.30" x2="211.40" y2="164.30" stroke="#bbb" stroke-width="0.6"/>
<line x1="209.70" y1="162.60" x2="209.70" y2="166.00" stroke="#bbb" stroke-width="0.6"/>
<text x="215.8" y="166.4" font-size="6.7" textLength="82.3" lengthAdjust="spacingAndGlyphs" fill="#2a2a2a" style="stroke-width:0.05px">GLP-1/glucagon + PEG-leptin</text>
<line x1="308.3" y1="164.3" x2="314.8" y2="164.3" stroke="#444" stroke-width="0.9"/>
<path d="M309.50,164.30 L311.50,162.30 L313.50,164.30 L311.50,166.30 Z" fill="#fff" stroke="#333" stroke-width="0.9"/>
<text x="319.0" y="166.4" font-size="6.7" textLength="29.8" lengthAdjust="spacingAndGlyphs" fill="#2a2a2a" style="stroke-width:0.05px">PEG-leptin</text>
<line x1="231.2" y1="186.1" x2="231.2" y2="278.0" stroke="#4a4a4a" stroke-width="1.25"/>
<line x1="229.7" y1="186.60000000000002" x2="231.2" y2="186.60000000000002" stroke="#4a4a4a" stroke-width="1"/>
<text x="229.2" y="189.3" font-size="6.9" text-anchor="end" font-weight="normal" fill="#222" >300</text>
<line x1="229.7" y1="216.9" x2="231.2" y2="216.9" stroke="#4a4a4a" stroke-width="1"/>
<text x="229.2" y="219.6" font-size="6.9" text-anchor="end" font-weight="normal" fill="#222" >200</text>
<line x1="229.7" y1="247.2" x2="231.2" y2="247.2" stroke="#4a4a4a" stroke-width="1"/>
<text x="229.2" y="249.89999999999998" font-size="6.9" text-anchor="end" font-weight="normal" fill="#222" >100</text>
<line x1="229.7" y1="277.5" x2="231.2" y2="277.5" stroke="#4a4a4a" stroke-width="1"/>
<text x="229.2" y="280.2" font-size="6.9" text-anchor="end" font-weight="normal" fill="#222" >0</text>
<line x1="230.7" y1="277.5" x2="352.8" y2="277.5" stroke="#4a4a4a" stroke-width="1.25"/>
<line x1="231.0" y1="277.4" x2="231.0" y2="279.4" stroke="#4a4a4a" stroke-width="1"/>
<text x="231.0" y="286.0" font-size="6.9" text-anchor="middle" font-weight="normal" fill="#222" >0</text>
<line x1="261.325" y1="277.4" x2="261.325" y2="279.4" stroke="#4a4a4a" stroke-width="1"/>
<text x="261.325" y="286.0" font-size="6.9" text-anchor="middle" font-weight="normal" fill="#222" >30</text>
<line x1="291.65" y1="277.4" x2="291.65" y2="279.4" stroke="#4a4a4a" stroke-width="1"/>
<text x="291.65" y="286.0" font-size="6.9" text-anchor="middle" font-weight="normal" fill="#222" >60</text>
<line x1="321.975" y1="277.4" x2="321.975" y2="279.4" stroke="#4a4a4a" stroke-width="1"/>
<text x="321.975" y="286.0" font-size="6.9" text-anchor="middle" font-weight="normal" fill="#222" >90</text>
<line x1="352.29999999999995" y1="277.4" x2="352.29999999999995" y2="279.4" stroke="#4a4a4a" stroke-width="1"/>
<text x="352.29999999999995" y="286.0" font-size="6.9" text-anchor="middle" font-weight="normal" fill="#222" >120</text>
<text x="291.75" y="297.7" font-size="8.3" text-anchor="middle" font-weight="normal" fill="#222" >Time (min)</text>
<text transform="translate(211.7,228.5) rotate(-90)" x="0" y="0" font-size="8.3" text-anchor="middle" fill="#222" xml:space="preserve">Blood glucose (mg/dL)</text>
<line x1="246.1625" y1="194.2" x2="246.1625" y2="204.2" stroke="#444" stroke-width="0.8"/>
<line x1="244.5625" y1="194.2" x2="247.7625" y2="194.2" stroke="#444" stroke-width="0.8"/>
<line x1="244.5625" y1="204.2" x2="247.7625" y2="204.2" stroke="#444" stroke-width="0.8"/>
<line x1="261.325" y1="206.5" x2="261.325" y2="215.7" stroke="#444" stroke-width="0.8"/>
<line x1="259.72499999999997" y1="206.5" x2="262.925" y2="206.5" stroke="#444" stroke-width="0.8"/>
<line x1="259.72499999999997" y1="215.7" x2="262.925" y2="215.7" stroke="#444" stroke-width="0.8"/>
<line x1="291.65" y1="210.9" x2="291.65" y2="218.9" stroke="#444" stroke-width="0.8"/>
<line x1="290.04999999999995" y1="210.9" x2="293.25" y2="210.9" stroke="#444" stroke-width="0.8"/>
<line x1="290.04999999999995" y1="218.9" x2="293.25" y2="218.9" stroke="#444" stroke-width="0.8"/>
<line x1="246.1625" y1="219.10000000000002" x2="246.1625" y2="226.5" stroke="#444" stroke-width="0.8"/>
<line x1="244.5625" y1="219.10000000000002" x2="247.7625" y2="219.10000000000002" stroke="#444" stroke-width="0.8"/>
<line x1="244.5625" y1="226.5" x2="247.7625" y2="226.5" stroke="#444" stroke-width="0.8"/>
<polyline points="231.00,230.30 246.16,199.20 261.32,211.10 291.65,214.90 352.30,231.25" fill="none" stroke="#555" stroke-width="1.0"/>
<polyline points="231.00,245.20 246.16,222.80 261.32,245.40 291.65,251.50 352.30,253.25" fill="none" stroke="#555" stroke-width="1.0"/>
<rect x="229.00" y="243.20" width="4.00" height="4.00" rx="1.10" fill="#2a2a2a"/>
<line x1="229.30" y1="245.20" x2="232.70" y2="245.20" stroke="#bbb" stroke-width="0.6"/>
<line x1="231.00" y1="243.50" x2="231.00" y2="246.90" stroke="#bbb" stroke-width="0.6"/>
<rect x="244.16" y="220.80" width="4.00" height="4.00" rx="1.10" fill="#2a2a2a"/>
<line x1="244.46" y1="222.80" x2="247.86" y2="222.80" stroke="#bbb" stroke-width="0.6"/>
<line x1="246.16" y1="221.10" x2="246.16" y2="224.50" stroke="#bbb" stroke-width="0.6"/>
<rect x="259.32" y="243.40" width="4.00" height="4.00" rx="1.10" fill="#2a2a2a"/>
<line x1="259.62" y1="245.40" x2="263.02" y2="245.40" stroke="#bbb" stroke-width="0.6"/>
<line x1="261.32" y1="243.70" x2="261.32" y2="247.10" stroke="#bbb" stroke-width="0.6"/>
<rect x="289.65" y="249.50" width="4.00" height="4.00" rx="1.10" fill="#2a2a2a"/>
<line x1="289.95" y1="251.50" x2="293.35" y2="251.50" stroke="#bbb" stroke-width="0.6"/>
<line x1="291.65" y1="249.80" x2="291.65" y2="253.20" stroke="#bbb" stroke-width="0.6"/>
<rect x="350.30" y="251.25" width="4.00" height="4.00" rx="1.10" fill="#2a2a2a"/>
<line x1="350.60" y1="253.25" x2="354.00" y2="253.25" stroke="#bbb" stroke-width="0.6"/>
<line x1="352.30" y1="251.55" x2="352.30" y2="254.95" stroke="#bbb" stroke-width="0.6"/>
<circle cx="231.00" cy="230.30" r="1.6" fill="#fff" stroke="#333" stroke-width="0.9"/>
<circle cx="246.16" cy="199.20" r="1.6" fill="#fff" stroke="#333" stroke-width="0.9"/>
<circle cx="261.32" cy="211.10" r="1.6" fill="#fff" stroke="#333" stroke-width="0.9"/>
<circle cx="291.65" cy="214.90" r="1.6" fill="#fff" stroke="#333" stroke-width="0.9"/>
<circle cx="352.30" cy="231.25" r="1.6" fill="#fff" stroke="#333" stroke-width="0.9"/>
<line x1="412.3" y1="185.9" x2="412.3" y2="277.5" stroke="#4a4a4a" stroke-width="1.25"/>
<line x1="410.8" y1="186.4" x2="412.3" y2="186.4" stroke="#4a4a4a" stroke-width="1"/>
<text x="410.0" y="189.1" font-size="6.5" text-anchor="end" font-weight="normal" fill="#222" >30,000</text>
<line x1="410.8" y1="216.60000000000002" x2="412.3" y2="216.60000000000002" stroke="#4a4a4a" stroke-width="1"/>
<text x="410.0" y="219.3" font-size="6.5" text-anchor="end" font-weight="normal" fill="#222" >20,000</text>
<line x1="410.8" y1="246.8" x2="412.3" y2="246.8" stroke="#4a4a4a" stroke-width="1"/>
<text x="410.0" y="249.5" font-size="6.5" text-anchor="end" font-weight="normal" fill="#222" >10,000</text>
<line x1="410.8" y1="277.0" x2="412.3" y2="277.0" stroke="#4a4a4a" stroke-width="1"/>
<text x="410.0" y="279.7" font-size="6.5" text-anchor="end" font-weight="normal" fill="#222" >0</text>
<line x1="411.8" y1="277" x2="444" y2="277" stroke="#4a4a4a" stroke-width="1.25"/>
<rect x="415.0" y="205" width="9.899999999999977" height="72" fill="url(#chk)" stroke="#666" stroke-width="0.7"/>
<line x1="420" y1="201.9" x2="420" y2="205" stroke="#444" stroke-width="0.8"/>
<line x1="417.6" y1="201.9" x2="422.4" y2="201.9" stroke="#444" stroke-width="0.8"/>
<rect x="430.45" y="240.3" width="9.400000000000034" height="36.69999999999999" fill="#9b9b9b" stroke="#555" stroke-width="0.95"/>
<line x1="435.4" y1="238.8" x2="435.4" y2="240.3" stroke="#444" stroke-width="0.8"/>
<line x1="433.0" y1="238.8" x2="437.79999999999995" y2="238.8" stroke="#444" stroke-width="0.8"/>
<circle cx="431.9" cy="235.5" r="1.3" fill="#1a1a1a"/>
<circle cx="435.3" cy="235.5" r="1.3" fill="#1a1a1a"/>
<circle cx="438.7" cy="235.5" r="1.3" fill="#1a1a1a"/>
<text transform="translate(383.4,229.8) rotate(-90)" x="0" y="0" font-size="8.3" text-anchor="middle" fill="#222" xml:space="preserve">Area  Under Curve</text>
<text x="460.1" y="171.1" font-size="14.4" text-anchor="start" font-weight="bold" fill="#111" >F</text>
<line x1="488.9" y1="186.1" x2="488.9" y2="277.5" stroke="#4a4a4a" stroke-width="1.25"/>
<line x1="487.4" y1="186.6" x2="488.9" y2="186.6" stroke="#4a4a4a" stroke-width="1"/>
<text x="486.59999999999997" y="189.29999999999998" font-size="6.9" text-anchor="end" font-weight="normal" fill="#222" >40</text>
<line x1="487.4" y1="209.2" x2="488.9" y2="209.2" stroke="#4a4a4a" stroke-width="1"/>
<text x="486.59999999999997" y="211.89999999999998" font-size="6.9" text-anchor="end" font-weight="normal" fill="#222" >30</text>
<line x1="487.4" y1="231.8" x2="488.9" y2="231.8" stroke="#4a4a4a" stroke-width="1"/>
<text x="486.59999999999997" y="234.5" font-size="6.9" text-anchor="end" font-weight="normal" fill="#222" >20</text>
<line x1="487.4" y1="254.4" x2="488.9" y2="254.4" stroke="#4a4a4a" stroke-width="1"/>
<text x="486.59999999999997" y="257.1" font-size="6.9" text-anchor="end" font-weight="normal" fill="#222" >10</text>
<line x1="487.4" y1="277.0" x2="488.9" y2="277.0" stroke="#4a4a4a" stroke-width="1"/>
<text x="486.59999999999997" y="279.7" font-size="6.9" text-anchor="end" font-weight="normal" fill="#222" >0</text>
<line x1="488.4" y1="277" x2="518.5" y2="277" stroke="#4a4a4a" stroke-width="1.25"/>
<rect x="491.6" y="223.25" width="9.799999999999955" height="53.75" fill="url(#chk)" stroke="#666" stroke-width="0.7"/>
<line x1="496.5" y1="208.75" x2="496.5" y2="223.25" stroke="#444" stroke-width="0.8"/>
<line x1="494.0" y1="208.75" x2="499.0" y2="208.75" stroke="#444" stroke-width="0.8"/>
<rect x="506.85" y="268.9" width="9.299999999999955" height="8.100000000000023" fill="#9b9b9b" stroke="#555" stroke-width="0.95"/>
<line x1="511.5" y1="267.09999999999997" x2="511.5" y2="268.9" stroke="#444" stroke-width="0.8"/>
<line x1="508.9" y1="267.09999999999997" x2="514.1" y2="267.09999999999997" stroke="#444" stroke-width="0.8"/>
<circle cx="511.7" cy="260.6" r="1.3" fill="#1a1a1a"/>
<text transform="translate(469.6,229.3) rotate(-90)" x="0" y="0" font-size="8.3" text-anchor="middle" fill="#222" xml:space="preserve">HOMA-IR</text>
</svg>
</body></html>
